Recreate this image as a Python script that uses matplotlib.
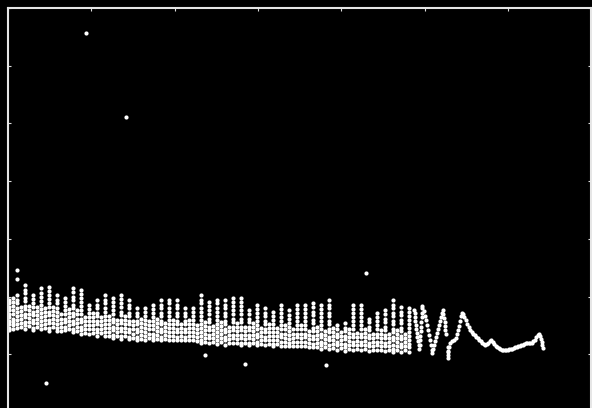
#!/usr/bin/env python

# Pitch track scatter: white dots on black, unlabeled axes frame.

import matplotlib

matplotlib.use("Agg")
import matplotlib.pyplot as plt
import numpy as np

# voiced frames: frame index and the candidate pitch values (Hz) found there
frame_cols = [
    1, 6, 11, 16, 20, 25, 30, 35, 40, 44, 49, 54, 59, 64, 68, 73, 78, 83, 88, 92,
    97, 102, 107, 112, 116, 121, 126, 131, 136, 140, 145, 150, 155, 160, 164, 169,
    174, 179, 184, 188, 193, 198, 203, 208, 212, 217, 222, 227, 232, 236, 241, 246,
    251, 256, 260, 265, 270, 275, 280, 284, 289, 294, 299, 304, 308, 313, 318, 323,
    328, 332, 337, 342, 347, 352, 356, 361, 366, 371, 376, 380, 385, 390, 395, 400,
    404, 409, 414, 419, 424, 428, 433, 438, 443, 448, 452, 457, 462, 467, 472, 476,
    481,
]
pitch_cols = [
    [97, 94, 91, 88, 85, 82, 79, 76, 73, 71],
    [99, 95, 92, 88, 85, 81, 78, 75, 72],
    [123, 115, 101, 97, 94, 90, 87, 83, 80, 76, 73],
    [91, 87.5, 84, 80.5, 77, 73.5],
    [110, 106, 103, 99, 96, 92, 89, 85, 82, 78, 75, 72],
    [92, 88.5, 85, 81.5, 78, 74.5],
    [101, 98, 94, 91, 87, 84, 80, 77, 73, 71],
    [91, 87.5, 84, 80.5, 77, 73.5],
    [107, 103, 100, 96, 93, 89, 86, 82, 79, 75, 72],
    [90, 86.5, 83, 79.5, 76, 72.5],
    [108, 105, 101, 98, 94, 91, 87, 84, 80, 77, 73, 70],
    [91, 87.5, 84, 80.5, 77, 73.5],
    [101, 97, 94, 90, 87, 83, 80, 76, 73, 70],
    [84.5, 81, 77.5, 74, 70.5],
    [99, 95, 92, 88, 85, 81, 78, 74, 71],
    [89, 85.5, 82, 78.5, 75, 71.5],
    [107, 104, 100, 97, 93, 90, 86, 83, 79, 76, 72, 69],
    [88, 84.5, 81, 77.5, 74, 70.5],
    [106, 102, 99, 95, 92, 88, 85, 81, 78, 74, 71, 68],
    [82.5, 79, 75.5, 72, 68.5],
    [93, 89, 86, 82, 79, 75, 72, 68],
    [86, 82.5, 79, 75.5, 72, 68.5],
    [97, 93, 90, 86, 83, 79, 76, 72, 69, 66],
    [82.5, 79, 75.5, 72, 68.5],
    [101, 97, 94, 90, 87, 83, 80, 76, 73, 69, 66],
    [83, 79.5, 76, 72.5, 69, 65.5],
    [99, 95, 92, 88, 85, 81, 78, 74, 71, 67, 64],
    [79.5, 76, 72.5, 69, 65.5],
    [101, 98, 94, 91, 87, 84, 80, 77, 73, 70, 66, 63],
    [83, 79.5, 76, 72.5, 69, 65.5],
    [97, 93, 90, 86, 83, 79, 76, 72, 69, 65, 63],
    [78.5, 75, 71.5, 68, 64.5],
    [90, 86, 83, 79, 76, 72, 69, 65, 62],
    [81, 77.5, 74, 70.5, 67, 63.5],
    [90, 87, 83, 80, 76, 73, 69, 66, 62],
    [78.5, 75, 71.5, 68, 64.5],
    [93, 89, 86, 82, 79, 75, 72, 68, 65, 62],
    [81, 77.5, 74, 70.5, 67, 63.5],
    [97, 93, 90, 86, 83, 79, 76, 72, 69, 65, 62],
    [77.5, 74, 70.5, 67, 63.5],
    [97, 94, 90, 87, 83, 80, 76, 73, 69, 66, 62],
    [80, 76.5, 73, 69.5, 66, 62.5],
    [97, 93, 90, 86, 83, 79, 76, 72, 69, 65, 62],
    [76.5, 73, 69.5, 66, 62.5],
    [90, 86, 83, 79, 76, 72, 69, 65, 62],
    [80, 76.5, 73, 69.5, 66, 62.5],
    [90, 87, 83, 80, 76, 73, 69, 66, 62],
    [75.5, 72, 68.5, 65, 61.5],
    [101, 97, 94, 90, 87, 83, 80, 76, 73, 69, 66, 62, 60],
    [78, 74.5, 71, 67.5, 64, 60.5],
    [95, 92, 88, 85, 81, 78, 74, 71, 67, 64, 60],
    [74.5, 71, 67.5, 64, 60.5],
    [97, 94, 90, 87, 83, 80, 76, 73, 69, 66, 62, 59],
    [78, 74.5, 71, 67.5, 64, 60.5],
    [97, 93, 90, 86, 83, 79, 76, 72, 69, 65, 62, 58],
    [73.5, 70, 66.5, 63, 59.5],
    [99, 95, 92, 88, 85, 81, 78, 74, 71, 67, 64, 60],
    [77, 73.5, 70, 66.5, 63, 59.5],
    [99, 95, 92, 88, 85, 81, 78, 74, 71, 67, 64, 60, 58],
    [73.5, 70, 66.5, 63, 59.5],
    [88, 85, 81, 78, 74, 71, 67, 64, 60, 58],
    [77, 73.5, 70, 66.5, 63, 59.5],
    [93, 89, 86, 82, 79, 75, 72, 68, 65, 61, 58],
    [72.5, 69, 65.5, 62, 58.5],
    [90, 86, 83, 79, 76, 72, 69, 65, 62, 58],
    [76, 72.5, 69, 65.5, 62, 58.5],
    [87, 83, 80, 76, 73, 69, 66, 62, 59, 57],
    [72.5, 69, 65.5, 62, 58.5],
    [93, 89, 86, 82, 79, 75, 72, 68, 65, 61, 57],
    [75, 71.5, 68, 64.5, 61, 57.5],
    [88, 84, 81, 77, 74, 70, 67, 63, 60, 57],
    [71.5, 68, 64.5, 61, 57.5],
    [93, 89, 86, 82, 79, 75, 72, 68, 65, 61, 57],
    [75, 71.5, 68, 64.5, 61, 57.5],
    [93, 89, 86, 82, 79, 75, 72, 68, 65, 61, 57],
    [70.5, 67, 63.5, 60, 56.5],
    [94, 91, 87, 84, 80, 77, 73, 70, 66, 63, 59, 56],
    [74, 70.5, 67, 63.5, 60, 56.5],
    [93, 89, 86, 82, 79, 75, 72, 68, 65, 61, 58, 55],
    [70.5, 67, 63.5, 60, 56.5],
    [97, 93, 90, 86, 83, 79, 76, 72, 69, 65, 62, 58, 55],
    [73, 69.5, 66, 62.5, 59, 55.5],
    [75, 72, 68, 65, 61, 58, 54],
    [69.5, 66, 62.5, 59, 55.5],
    [77, 73, 70, 66, 63, 59, 56, 53],
    [72, 68.5, 65, 61.5, 58, 54.5],
    [93, 89, 86, 82, 79, 75, 72, 68, 65, 61, 58, 54],
    [68.5, 65, 61.5, 58, 54.5],
    [93, 89, 86, 82, 79, 75, 72, 68, 65, 61, 58, 54],
    [72, 68.5, 65, 61.5, 58, 54.5],
    [81, 78, 74, 71, 67, 64, 60, 57, 53],
    [67.5, 64, 60.5, 57, 53.5],
    [86, 82, 79, 75, 72, 68, 65, 61, 58, 54],
    [71, 67.5, 64, 60.5, 57, 53.5],
    [88, 85, 81, 78, 74, 71, 67, 64, 60, 57, 53],
    [67.5, 64, 60.5, 57, 53.5],
    [97, 93, 90, 86, 83, 79, 76, 72, 69, 65, 62, 58, 55, 52],
    [71, 67.5, 64, 60.5, 57, 53.5],
    [91, 87, 84, 80, 77, 73, 70, 66, 63, 59, 56, 52],
    [67.5, 64, 60.5, 57, 53.5],
    [90, 87, 83, 80, 76, 73, 69, 66, 62, 59, 56, 52],
]

# single-candidate frames towards the end of the utterance
tail_frames = [
    487, 488, 488, 489, 490, 490, 491, 491, 492, 493, 493,
    494, 494.5, 495, 495.5, 496, 496, 496.5, 497, 497, 497,
    498.8, 500, 501.2, 502.4, 503.6, 504.8, 506, 507.2, 508.4, 509,
    509.8, 511, 512.2, 513.4, 514.6, 515.8, 517, 518.2, 519.4, 520.6, 521.8,
    522.6, 523.4, 524, 524.4, 524.7, 525.2, 528.2, 528.2, 528.4, 528.4,
    528, 529.2, 530.4, 532.8, 535.2, 537.6, 539.4, 540.6, 541.8, 543, 544.2, 544.8,
    546, 547.8, 549.6, 551.4, 553.2, 555, 556.8, 558.6, 560.4, 562.2, 564, 565.8,
    567.6, 569.4, 571.2, 573, 574.8, 576.6, 578.4, 580.2, 582, 583.8, 585.6, 587.4,
    589.2, 591, 592.8, 594.6, 596.4, 598.2, 600, 601.8, 603.6, 605.4, 607.2, 609,
    610.8, 612.6, 614.4, 616.2, 618, 619.8, 621.6, 623.4, 625.2, 627, 628.8, 630.6,
    632.4, 634.2, 636, 637.4, 638.6, 639.6, 640.4, 641.2, 642,
]
tail_pitch = [
    88.4, 85.8, 82.3, 78.9, 75.4, 71.9, 68.5, 65.0, 61.5, 58.1, 54.6,
    58, 62, 66, 70, 74, 78, 82, 86, 90, 92,
    87.5, 83.6, 79.7, 75.4, 71.1, 66.7, 62.4, 58.1, 53.7, 51.1,
    54.6, 58.1, 61.5, 65.0, 68.5, 71.9, 75.4, 78.9, 82.3, 85.8, 88.4,
    84.9, 81.5, 78.0, 74.5, 71.1, 67.6, 56.3, 52.9, 49.4, 46.8,
    52.0, 56.3, 59.8, 61.5, 62.4, 64.1, 67.6, 71.1, 74.5, 78.9, 83.2, 85.8,
    84.9, 82.3, 79.3, 76.3, 73.7, 71.1, 68.9, 67.6, 66.3, 65.0, 63.7, 62.4,
    61.1, 59.8, 58.9, 58.1, 58.5, 60.2, 61.5, 62.0, 60.7, 58.9, 57.2, 56.1,
    55.2, 54.6, 53.7, 53.3, 53.3, 53.5, 53.9, 54.3, 54.6, 55.0, 55.5, 56.1,
    56.6, 57.0, 57.5, 57.9, 58.4, 58.9, 59.4, 59.5, 59.5, 59.8, 60.2, 61.1,
    62.8, 64.6, 66.3, 67.6, 65.9, 63.3, 60.7, 58.1, 55.5,
]

# isolated octave errors / spurious detections
stray_frames = [94, 142, 430, 46, 236, 284, 382]
stray_pitch = [328, 256, 120, 25, 49, 42, 41]


x = np.concatenate(
    [np.full(len(ys), fx, dtype=float) for fx, ys in zip(frame_cols, pitch_cols)]
    + [tail_frames, stray_frames]
)
y = np.concatenate([np.concatenate(pitch_cols), tail_pitch, stray_pitch])

fig = plt.figure(figsize=(5.92, 4.08), dpi=100, facecolor="black")
ax = fig.add_axes([8 / 592, -4 / 408, 583.3 / 592, 404 / 408])
ax.set_facecolor("black")

ax.scatter(x, y, s=9, c="white", linewidths=0)

ax.set_xlim(0, 700)
ax.set_ylim(0, 350)
ax.set_xticks(np.arange(0, 701, 100))
ax.set_yticks(np.arange(0, 351, 50))
ax.tick_params(
    direction="in", length=2.5, width=0.8, color="#dddddd",
    top=True, right=True, labelbottom=False, labelleft=False,
)
for spine in ax.spines.values():
    spine.set_color("#e6e6e6")
    spine.set_linewidth(1.5)

fig.savefig("out.png", dpi=100, facecolor="black")
